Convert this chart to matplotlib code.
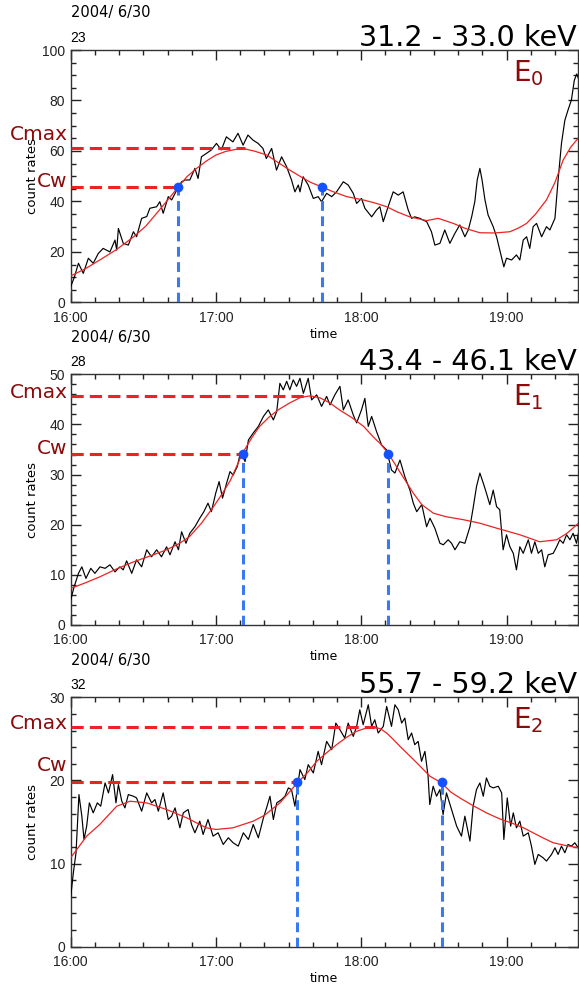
import matplotlib
matplotlib.use("Agg")
import matplotlib.pyplot as plt
from matplotlib.ticker import MultipleLocator, FuncFormatter

# ---------------- data (minutes after 16:00, count rates) ----------------
t1 = [0, 1.5, 3.2, 5.2, 7.3, 9.3, 11.4, 13.4, 16.2, 18.3, 19, 19.7, 21.7, 23.8, 25.9, 27.2,
      29.3, 31.4, 32.7, 35.5, 36.8, 38.2, 40.3, 41.7, 43.8, 45.8, 47.2, 49.2, 51.3, 52.6, 54,
      56, 58.1, 60.2, 62.2, 64.3, 67, 69.1, 71.2, 73.2, 75.3, 77.4, 79.4, 80.8, 83, 85, 87.1,
      89.2, 91.2, 92.6, 94, 94.7, 96, 98.1, 100.2, 102.2, 103.6, 105.7, 107.8, 109.8, 112.6,
      114.6, 116.7, 118.1, 120.1, 121.5, 124.3, 126.3, 127.7, 129.1, 131.1, 133.2, 135.3,
      137.3, 139.4, 140.8, 142.1, 144.2, 145.6, 147, 149, 150.4, 152.5, 154.5, 156.6, 158.7,
      160.7, 162.8, 164.2, 165.6, 166.9, 167.9, 169, 169.9, 171.1, 172.4, 174.5, 175.9, 177.2,
      178.9, 180, 182.1, 184.1, 185.5, 186.9, 188.3, 189.6, 191, 192.4, 194.5, 196.5, 197.9,
      200, 201.3, 202.7, 204.1, 205.4, 206.8, 208, 209, 210]
c1 = [6.2, 10, 15.5, 11.5, 17.5, 15.5, 19.4, 21.4, 20, 24.7, 20.7, 29.3, 23.4, 22.7, 28, 26,
      33.3, 34, 37.3, 37.9, 39.9, 35.3, 41.9, 40.6, 44.5, 47.8, 48.5, 48.5, 53.1, 49.1, 57.7,
      59, 60.4, 63, 60.4, 65.6, 63.6, 67, 62.3, 66.3, 64.3, 63, 61, 57, 61, 52.4, 57.7,
      53.7, 48.5, 43.8, 46.5, 43.8, 49.8, 46.5, 41.2, 41.9, 39.9, 43.2, 41.9, 43.8, 47.8,
      46.5, 43.2, 39.2, 41.2, 37.3, 33.9, 36.6, 37.9, 32, 37.9, 43.8, 42.5,
      43.8, 36.6, 33.3, 33.9, 33.3, 32.6, 32, 28, 22.7, 23.4, 28.7, 23.4, 27.4,
      30.7, 26, 28.7, 33.9, 39.9, 48.5, 53.1, 48.5, 40.6, 34.6, 30, 26, 20.8,
      14.1, 17.5, 16.8, 18.8, 16.8, 24.7, 26, 21.4, 30, 31.3, 26, 30, 28.7,
      33.3, 48.5, 63, 72.2, 76.2, 80.2, 88, 90.5, 88]
ts1 = [0, 6, 12, 19, 26, 31, 35.5, 40, 44.5, 48, 52, 56, 60, 64, 68, 72, 76, 81, 86, 90.5,
       95, 99, 103.6, 108, 114, 120.8, 126, 130.5, 135, 140, 147, 151.8, 158, 163, 169, 175,
       181.4, 185, 188.3, 192, 196.5, 200, 203.4, 206.5, 209.6]
s1 = [10.5, 13.3, 16.8, 21, 26, 30.2, 35.3, 40.5, 45.8, 49.8, 53.1, 56, 58.4, 59.8, 60.6, 60.8,
      59.9, 58.4, 55.2, 52.4, 49.8, 47.6, 45.8, 44, 41.9, 40.6, 39.3, 37.9, 35.8, 33.9, 32.4,
      33.3, 31.3, 29.3, 27.6, 27.5, 28, 29.5, 31.3, 35, 40.6, 47.5, 56.4, 61.5, 65]

t2 = [0, 1.4, 3.2, 4.6, 6.3, 8.3, 10, 12.1, 14.2, 16.2, 18.3, 20.3, 21.7, 23.1, 25.2, 27.2,
      29.3, 31.4, 33.4, 35.5, 37.5, 39.6, 41, 43.1, 44.5, 45.8, 47.6, 49.2, 51.3, 53.3, 55,
      56.7, 58.1, 59.9, 61.3, 62.7, 64.4, 65.8, 67.1, 68.8, 70.2, 72, 73.4, 75.4, 77.5, 79.6,
      81.6, 83.7, 85.1, 86.4, 87.8, 89.2, 90.5, 91.9, 93.3, 94.7, 96.1, 98.1, 99.5, 101.6,
      103.6, 105.7, 107.1, 109.1, 111.2, 112.6, 114.6, 116.7, 118.1, 120.1, 121.5, 122.9,
      124.3, 126.3, 128.4, 130.5, 132.5, 133.9, 136, 138, 140.1, 141.5, 142.9, 145, 147,
      148.4, 150.4, 152.5, 153.9, 155.9, 157.3, 158.7, 160.7, 162.8, 164.9, 166.2, 167.6,
      169, 170.4, 171.7, 173.1, 174.5, 175.9, 177.2, 178.6, 180, 181.4, 182.8, 184.1, 185.5,
      186.9, 189, 190.3, 191.7, 193.1, 194.5, 195.8, 197.2, 199.3, 200.7, 202, 203.4, 204.8,
      206.2, 207.5, 208.9, 210]
c2 = [5, 7.6, 10.3, 11.6, 9.3, 11.3, 10.3, 11.6, 11.3, 12, 10.6, 11.6, 11, 12.8, 10.3, 13,
      11.6, 15, 13.6, 15, 13.6, 15.6, 14, 16.6, 15, 18.6, 16.3, 18.3, 19.6, 21.3, 22.6,
      24.3, 22.6, 26.3, 28.6, 25.3, 28.3, 30.6, 29.9, 31.6, 34.6, 32.6, 36.9, 38.3, 39.6, 41.6,
      42.9, 40.9, 42.6, 48.2, 46.9, 48.6, 46.9, 48.9, 47.6, 49.2, 46.2, 49.2, 44.9, 45.9,
      43.6, 45.6, 43.9, 45.9, 47.6, 42.9, 44.9, 41.9, 40.3, 42.9, 45.2, 39.6,
      41.6, 38.6, 35.9, 34.9, 30.9, 30.3, 32.9, 29.6, 26.9, 24.3, 22.6, 24, 19.6,
      21.3, 19.3, 16.3, 16, 17, 16.3, 15, 16.6, 16.3, 19.6, 23.3, 27.6,
      30.3, 28.3, 26.3, 24, 26.9, 23.6, 23, 15, 18, 15.6, 14.3, 11, 15.6,
      14.3, 17, 14.3, 16.6, 14.3, 15, 11.6, 14, 14.3, 15.6, 17, 16.3, 18,
      17, 18.3, 16.3, 19]
ts2 = [0, 6, 12, 19, 26, 33, 39.6, 45, 49, 54, 59, 63, 66, 71, 75, 78, 82, 86, 90.5, 95, 99,
       103, 107, 111, 116, 121, 125, 128, 131.2, 136, 141.5, 145, 149.8, 155, 162.2, 169, 176,
       185.5, 193.7, 200.7, 205, 209.7]
s2 = [7.3, 8.4, 9.6, 11.2, 12.6, 13.8, 15, 16.3, 17.6, 20.3, 23.6, 26.5, 28.9, 34.3, 37.5, 39.6,
      41.5, 43, 44.3, 45.4, 45.7, 45.3, 44.3, 42.9, 41.4, 39.6, 37.5, 36.1, 34.2, 30.5, 26.3,
      24, 22.3, 21.6, 21, 20.3, 19.3, 18, 16.6, 17, 18.3, 20.3]

t3 = [0, 1.1, 2.2, 3.4, 4.6, 5.5, 6.6, 7.7, 9.3, 11, 12.4, 14.2, 15.6, 17.3, 18.7, 19.7, 21.1,
      22.4, 23.8, 25.9, 27.2, 29.3, 31.4, 33.4, 34.8, 36.2, 38.2, 40.3, 41.7, 43.1, 45.1,
      46.5, 48.5, 49.9, 51.3, 53.3, 54.7, 56.7, 58.8, 60.9, 63, 65.1, 67.1, 69.2, 71.3, 73.4,
      75.4, 77.5, 79.6, 80.9, 82.3, 83.7, 85.1, 87.1, 88.5, 89.9, 91.2, 92.6, 94.7, 96.7,
      98.1, 100.2, 102.2, 103.6, 105.7, 107.8, 109.5, 111.2, 113.2, 114.6, 116.7, 118.1,
      119.4, 120.8, 122.9, 124.3, 125.6, 127, 129.1, 130.5, 132.5, 133.9, 135.3, 136.7, 138,
      139.4, 140.8, 142.1, 143.5, 144.9, 146.3, 147.6, 148.3, 149.7, 151.1, 152.5, 153.8,
      155.2, 157.3, 159.4, 161.4, 162.8, 164.9, 166.2, 167.6, 169, 170.4, 171.7, 173.1,
      174.5, 176.6, 178, 178.9, 180.3, 181.7, 182.8, 184.1, 185.5, 186.9, 189, 190.3, 191.7,
      193.1, 195.1, 196.5, 198.6, 200, 201.3, 202.7, 204.1, 205.4, 206.8, 208.2, 209.6]
c3 = [6, 8.9, 11.3, 18.3, 15.7, 12.9, 14.5, 17.3, 16.1, 17.3, 16.9, 19.7, 18.5, 20.7, 17.3, 19.5, 17.5,
      16.7, 18.3, 18.1, 17.9, 16.3, 18.5, 17.3, 17.7, 16.3, 18.5, 15.3, 15.7, 16.7, 14.3,
      16.1, 16.5, 14.7, 13.7, 15.1, 13.5, 15.3, 13.3, 13.7, 12.3, 13.1, 12.5, 12.1, 13.7, 12.9,
      14.7, 13.1, 15.5, 16.7, 18.1, 15.3, 17.3, 17.7, 18.1, 19.1, 18.9, 16.9, 21.3, 20.1,
      21.9, 20.9, 23.5, 21.9, 24.7, 23.7, 26.9, 26.1, 25.1, 26.9, 25.3, 26.5,
      28.5, 26.7, 29.1, 26.5, 27.3, 25.7, 26.5, 28.9, 26.5, 29.1, 28.5, 26.9, 27.5,
      24.9, 25.7, 24.3, 24.7, 22.3, 23.5, 20.5, 17.1, 19.3, 18.1, 18.9, 15.9,
      18.5, 16.5, 14.5, 13.3, 15.7, 12.7, 16.9, 18.9, 19.7, 18.1, 20.3, 19.3,
      19.1, 19.3, 18.5, 12.9, 17.9, 14.5, 16.1, 14.3, 15.1, 13.3, 13.7, 12.1, 9.9,
      11.1, 10.7, 10.3, 11.1, 11.9, 11.1, 12.1, 11.3, 12.3, 12.1, 12.5, 11.9]
ts3 = [0, 6.6, 12, 19, 24.5, 31.4, 39.6, 47.9, 56, 60, 67, 75.4, 80, 86.4, 90, 93.6, 98, 101.6,
       106, 109.8, 114, 118, 122, 125.6, 128, 130.5, 133, 136, 139.5, 143, 148.4, 153.2, 157,
       160.7, 166, 171.7, 177, 182.8, 187, 191, 195, 199.3, 204, 209.6]
s3 = [10.7, 13.3, 14.7, 16.9, 17.5, 17.3, 16.5, 15.5, 14.3, 14.1, 14.3, 15.1, 15.8, 17.3, 18.5,
      19.7, 21, 22.3, 23.4, 24.3, 25.2, 25.9, 26.3, 26.4, 26.2, 25.7, 25, 24.1, 23.1, 22.1,
      20.5, 19.7, 18.6, 17.9, 17, 16.1, 15.4, 14.8, 14.3, 13.7, 13.1, 12.5, 12.2, 11.9]

energies = ["31.2 - 33.0 keV", "43.4 - 46.1 keV", "55.7 - 59.2 keV"]
channels = ["23", "28", "32"]
band_names = ["0", "1", "2"]
dates = ["2004/ 6/30"] * 3
ymax = [100, 50, 30]
ymajor = [20, 10, 10]
yminor = [5, 2, 2]
c_max = [61.0, 45.7, 26.4]
t_max = [72.0, 99.0, 125.6]
c_w = [45.8, 34.2, 19.8]
t_w = [[44.5, 103.6], [71.0, 131.2], [93.6, 153.2]]
hour_labels = ["16:00", "17:00", "18:00", "19:00"]

times = [t1, t2, t3]
counts = [c1, c2, c3]
stimes = [ts1, ts2, ts3]
smooth = [s1, s2, s3]

# ---------------- layout ----------------
W, H = 579, 990
plt.rcParams["mathtext.fontset"] = "dejavusans"
fig = plt.figure(figsize=(W / 100, H / 100), dpi=100)

panel_px = [(70.7, 50.0, 577.7, 302.4), (70.7, 374.3, 577.7, 625.0), (70.7, 697.3, 577.7, 946.7)]
cmax_off = [8, -2, -2]   # label baseline above line (px)
cw_off = [0, 0, 11]

DARKRED = "#8b0a0a"
RED = "#ee2222"
BLUE_L = "#3a7af0"
BLUE_D = "#1552ff"
TICKFONT = "Liberation Sans"


def fx(px):
    return px / W


def fy(py):
    return 1 - py / H


for i in range(3):
    l, t, r, b = panel_px[i]
    ax = fig.add_axes([fx(l), fy(b), fx(r) - fx(l), fy(t) - fy(b)])
    ax.set_xlim(0, 209.4)
    ax.set_ylim(0, ymax[i])

    ax.plot(times[i], counts[i], color="black", lw=0.85, zorder=3)
    ax.plot(stimes[i], smooth[i], color=RED, lw=0.9, zorder=4)
    # Cmax / Cw dashed references
    ax.plot([0, t_max[i]], [c_max[i], c_max[i]], color=RED, lw=2.2, dashes=(4, 2),
            zorder=5, solid_capstyle="butt")
    ax.plot([0, t_w[i][0]], [c_w[i], c_w[i]], color=RED, lw=2.2, dashes=(4, 2),
            zorder=5, solid_capstyle="butt")
    for tw in t_w[i]:
        ax.plot([tw, tw], [0, c_w[i]], color=BLUE_L, lw=2.2, dashes=(3.2, 1.8), zorder=5)
    ax.plot(t_w[i], [c_w[i]] * 2, "o", color=BLUE_D, ms=7, zorder=6, mec="none")

    # ticks
    ax.xaxis.set_major_locator(MultipleLocator(60))
    ax.xaxis.set_minor_locator(MultipleLocator(10))
    ax.xaxis.set_major_formatter(FuncFormatter(
        lambda v, p: hour_labels[int(round(v / 60))] if 0 <= round(v / 60) < len(hour_labels) else ""))
    ax.yaxis.set_major_locator(MultipleLocator(ymajor[i]))
    ax.yaxis.set_minor_locator(MultipleLocator(yminor[i]))
    ax.tick_params(which="both", direction="in", top=True, right=True, colors="#222222",
                   width=1.0)
    ax.tick_params(which="major", length=7)
    ax.tick_params(which="minor", length=3.5)
    ax.tick_params(axis="x", which="major", pad=6, labelsize=10)
    ax.tick_params(axis="y", which="major", pad=4, labelsize=10)
    for lab in ax.get_xticklabels() + ax.get_yticklabels():
        lab.set_fontfamily(TICKFONT)
    for sp in ax.spines.values():
        sp.set_linewidth(1.0)
        sp.set_color("#333333")

    # texts
    fig.text(fx(l), fy(t - 37), dates[i], ha="left", va="center", fontsize=10.5,
             family="DejaVu Sans")
    fig.text(fx(l), fy(t - 12), channels[i], ha="left", va="center", fontsize=10,
             family=TICKFONT)
    fig.text(fx(577), fy(t - 4.5), energies[i], ha="right", va="baseline", fontsize=20.6,
             family="DejaVu Sans")
    fig.text(fx(513), fy(t + 31), r"$\mathrm{E}_{" + band_names[i] + "}$", ha="left",
             va="baseline", fontsize=20, color=DARKRED)
    fig.text(fx(32), fy((t + b) / 2), "count rates", rotation=90, ha="center", va="center",
             fontsize=9.5, family="DejaVu Sans")
    fig.text(fx(324), fy(b + 32), "time", ha="center", va="center", fontsize=9,
             family="DejaVu Sans")

    # Cmax / Cw labels (positions from the data line, offset in pixels)
    ymx_px = b - (b - t) * c_max[i] / ymax[i]
    ycw_px = b - (b - t) * c_w[i] / ymax[i]
    fig.text(fx(68), fy(ymx_px - cmax_off[i]), "Cmax", ha="right", va="baseline",
             fontsize=14.5, color=DARKRED, family="DejaVu Sans")
    fig.text(fx(67), fy(ycw_px - cw_off[i]), "Cw", ha="right", va="baseline",
             fontsize=14.5, color=DARKRED, family="DejaVu Sans")

fig.savefig("out.png", dpi=100)
